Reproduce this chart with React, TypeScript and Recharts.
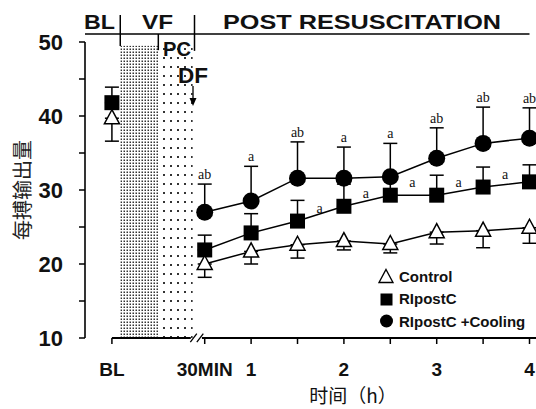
import React from 'react';
import { LineChart, Line, XAxis, YAxis, ErrorBar, ReferenceArea, ReferenceLine, Legend, LabelList, Label } from 'recharts';

// time points in hours after resuscitation (BL drawn at -0.5)
const hours = [-0.5, 0.5, 1, 1.5, 2, 2.5, 3, 3.5, 4];
const tickHours = [-0.5, 0.5, 1, 1.5, 2, 2.5, 3, 3.5, 4];
const tickLabels = ['BL', '30MIN', '1', '', '2', '', '3', '', '4'];

const control = [39.7, 20.0, 21.7, 22.6, 23.1, 22.7, 24.3, 24.5, 24.9];
const controlSdLow = [3.1, 1.8, 1.7, 1.8, 1.2, 1.2, 1.6, 2.3, 2.1];
const ripostc = [41.8, 21.9, 24.2, 25.8, 27.8, 29.3, 29.3, 30.4, 31.1];
const ripostcSdHigh = [2.1, 2.0, 2.6, 2.8, 3.0, 2.6, 2.7, 2.7, 2.3];
const cooling = [null, 27.0, 28.5, 31.6, 31.6, 31.8, 34.3, 36.3, 37.0];
const coolingSdHigh = [null, 3.8, 4.7, 4.9, 4.2, 4.5, 4.1, 4.9, 4.1];
const coolingSig = ['', 'ab', 'a', 'ab', 'a', 'a', 'ab', 'ab', 'ab'];
const ripostcSig = ['', '', '', 'a', 'a', 'a', 'a', 'a', ''];

// phase boundaries (hours)
const vfStart = -0.41;
const pcStart = 0;
const dfAt = 0.39;

const rows: any[] = [];
hours.forEach((h, i) => {
  rows.push({
    h,
    control: control[i],
    controlErr: [controlSdLow[i], 0],
    ripostc: ripostc[i],
    ripostcErr: [0, ripostcSdHigh[i]],
    ripostcSig: ripostcSig[i],
    cooling: cooling[i],
    coolingErr: cooling[i] == null ? null : [0, coolingSdHigh[i]],
    coolingTop: cooling[i] == null ? null : cooling[i] + coolingSdHigh[i],
    coolingSig: coolingSig[i],
  });
  // break the lines between BL and the post-resuscitation points
  if (i === 0) rows.push({ h: 0 });
});

const FONT = 'Arial, "Liberation Sans", Helvetica, sans-serif';

const Tri = (p: any) => {
  const { cx, cy, index } = p;
  if (cx == null || cy == null) return <g key={`t${index}`} />;
  return (
    <path key={`t${index}`} d={`M${cx},${cy - 8.5} L${cx + 7.5},${cy + 5.5} L${cx - 7.5},${cy + 5.5} Z`}
      fill="#fff" stroke="#000" strokeWidth={1.5} />
  );
};

const Sq = (p: any) => {
  const { cx, cy, index } = p;
  if (cx == null || cy == null) return <g key={`s${index}`} />;
  return <rect key={`s${index}`} x={cx - 7.5} y={cy - 7.5} width={15} height={15} fill="#000" />;
};

const Circ = (p: any) => {
  const { cx, cy, index } = p;
  if (cx == null || cy == null) return <g key={`c${index}`} />;
  return <circle key={`c${index}`} cx={cx} cy={cy} r={8.5} fill="#000" />;
};

const XTick = (p: any) => {
  const { x, y, payload } = p;
  const i = tickHours.indexOf(payload.value);
  return (
    <text x={x} y={y + 30} textAnchor="middle" fontFamily={FONT} fontWeight="bold" fontSize={19} fill="#111">
      {i >= 0 ? tickLabels[i] : ''}
    </text>
  );
};

const YTick = (p: any) => {
  const { x, y, payload } = p;
  if (payload.value % 10 !== 0) return <g />;
  return (
    <text x={x} y={y + 8} textAnchor="end" fontFamily={FONT} fontWeight="bold" fontSize={22} fill="#111">
      {payload.value}
    </text>
  );
};

const SigA = (p: any) => {
  const { x, y, value } = p;
  if (!value) return null;
  return (
    <text x={x + 22} y={y - 8} textAnchor="middle" fontFamily='"Liberation Serif", "Times New Roman", serif' fontSize={14} fill="#111">
      {value}
    </text>
  );
};

const LegendBox = () => {
  const row = { display: 'flex', alignItems: 'center', height: 22.5 } as const;
  return (
    <div style={{ fontFamily: FONT, fontWeight: 'bold', fontSize: 15, color: '#111' }}>
      <div style={row}>
        <svg width={16} height={16}><path d="M8,1.5 L15,14.5 L1,14.5 Z" fill="#fff" stroke="#000" strokeWidth={1.4} /></svg>
        <span style={{ marginLeft: 5 }}>Control</span>
      </div>
      <div style={row}>
        <svg width={16} height={16}><rect x={2.5} y={2.5} width={12} height={12} fill="#000" /></svg>
        <span style={{ marginLeft: 5 }}>RIpostC</span>
      </div>
      <div style={row}>
        <svg width={16} height={16}><circle cx={8.5} cy={8} r={6.5} fill="#000" /></svg>
        <span style={{ marginLeft: 5 }}>RIpostC +Cooling</span>
      </div>
    </div>
  );
};

export default function App() {
  const seg = (x1: number, y1: number, x2: number, y2: number, w = 1.5) => (
    <ReferenceLine segment={[{ x: x1, y: y1 }, { x: x2, y: y2 }]} stroke="#000" strokeWidth={w} ifOverflow="visible" />
  );
  return (
    <div style={{ position: 'absolute', left: 0, top: 0, width: 536, height: 409, background: '#fff', overflow: 'hidden' }}>
      <svg width={0} height={0} style={{ position: 'absolute' }}>
        <defs>
          <pattern id="vfDots" width={3} height={3} patternUnits="userSpaceOnUse">
            <rect x={0.5} y={0.5} width={1.5} height={1.5} fill="#333" />
          </pattern>
          <pattern id="pcDots" width={7} height={9} patternUnits="userSpaceOnUse">
            <rect x={2} y={3} width={2} height={2} fill="#333" />
          </pattern>
        </defs>
      </svg>
      <LineChart width={536} height={409} data={rows} margin={{ top: 42, right: 0, bottom: 0, left: 0 }}
        style={{ position: 'absolute', left: 0, top: 0 }}>
        <ReferenceArea x1={vfStart} x2={pcStart} y1={10} y2={49.5} fill="url(#vfDots)" fillOpacity={1} />
        <ReferenceArea x1={pcStart} x2={dfAt - 0.02} y1={10} y2={49.5} fill="url(#pcDots)" fillOpacity={1} />
        <XAxis type="number" dataKey="h" domain={[-0.79, 4.07]} ticks={tickHours} interval={0}
          height={71} axisLine={false} tickLine={{ stroke: '#000', strokeWidth: 1.5 }} tickSize={6} tick={<XTick />}>
          <Label content={(p: any) => (
            <text x={p.viewBox.x + 268} y={p.viewBox.y + 65} textAnchor="middle"
              fontFamily='"Noto Sans CJK SC", sans-serif' fontSize={19} fill="#111">时间（h）</text>
          )} />
        </XAxis>
        <YAxis type="number" domain={[10, 50]} ticks={[10, 15, 20, 25, 30, 35, 40, 45, 50]} width={85}
          axisLine={{ stroke: '#000', strokeWidth: 1.6 }} tickLine={{ stroke: '#000', strokeWidth: 1.5 }}
          tickSize={6} tickMargin={16} tick={<YTick />}>
          <Label content={(p: any) => {
            const cx = p.viewBox.x + 21;
            const cy = p.viewBox.y + p.viewBox.height / 2;
            return (
              <text x={cx} y={cy} transform={`rotate(-90 ${cx} ${cy})`} textAnchor="middle" dominantBaseline="central"
                fontFamily='"Noto Sans CJK SC", sans-serif' fontSize={20} fill="#222">每搏输出量</text>
            );
          }} />
        </YAxis>

        {/* x axis with break */}
        {seg(-0.5, 10, 0.35, 10, 1.8)}
        {seg(0.47, 10, 4.07, 10, 1.8)}
        {seg(0.345, 9.45, 0.415, 10.6, 1.3)}
        {seg(0.415, 9.45, 0.485, 10.6, 1.3)}

        {/* phase header */}
        {seg(-0.79, 51.08, 4.0, 51.08)}
        {seg(vfStart, 49.46, vfStart, 53.65)}
        {seg(pcStart, 48.9, pcStart, 51.08)}
        {seg(dfAt, 48.8, dfAt, 53.65)}

        <Line dataKey="coolingTop" stroke="none" dot={false} activeDot={false} isAnimationActive={false} legendType="none">
          <LabelList dataKey="coolingSig" position="top" offset={5}
            style={{ fontFamily: '"Liberation Serif", "Times New Roman", serif', fontSize: 14, fill: '#111' }} />
        </Line>
        <Line dataKey="cooling" stroke="#000" strokeWidth={1.5} dot={Circ} activeDot={false} isAnimationActive={false}>
          <ErrorBar dataKey="coolingErr" width={7} stroke="#000" strokeWidth={1.5} />
        </Line>
        <Line dataKey="ripostc" stroke="#000" strokeWidth={1.5} dot={Sq} activeDot={false} isAnimationActive={false}>
          <ErrorBar dataKey="ripostcErr" width={7} stroke="#000" strokeWidth={1.5} />
          <LabelList dataKey="ripostcSig" content={SigA} />
        </Line>
        <Line dataKey="control" stroke="#000" strokeWidth={1.5} dot={Tri} activeDot={false} isAnimationActive={false}>
          <ErrorBar dataKey="controlErr" width={7} stroke="#000" strokeWidth={1.5} />
        </Line>

        <Legend layout="vertical" align="center" verticalAlign="middle" content={LegendBox}
          wrapperStyle={{ left: 378, top: 265, width: 158 }} />
      </LineChart>
      <svg width={536} height={409} style={{ position: 'absolute', left: 0, top: 0, pointerEvents: 'none' }}>
        <g fontFamily={FONT} fontWeight="bold" fill="#111">
          <text x={84} y={29} fontSize={21} textLength={31} lengthAdjust="spacingAndGlyphs">BL</text>
          <text x={142} y={29} fontSize={21} textLength={31} lengthAdjust="spacingAndGlyphs">VF</text>
          <text x={223} y={29} fontSize={21} textLength={278} lengthAdjust="spacingAndGlyphs">POST RESUSCITATION</text>
          <text x={163} y={56} fontSize={20} textLength={28} lengthAdjust="spacingAndGlyphs">PC</text>
          <text x={178} y={83} fontSize={22} textLength={30} lengthAdjust="spacingAndGlyphs">DF</text>
        </g>
        <line x1={193} y1={86} x2={193} y2={100} stroke="#000" strokeWidth={1.3} />
        <path d="M189.5,98 L196.5,98 L193,106 Z" fill="#000" />
      </svg>
    </div>
  );
}
